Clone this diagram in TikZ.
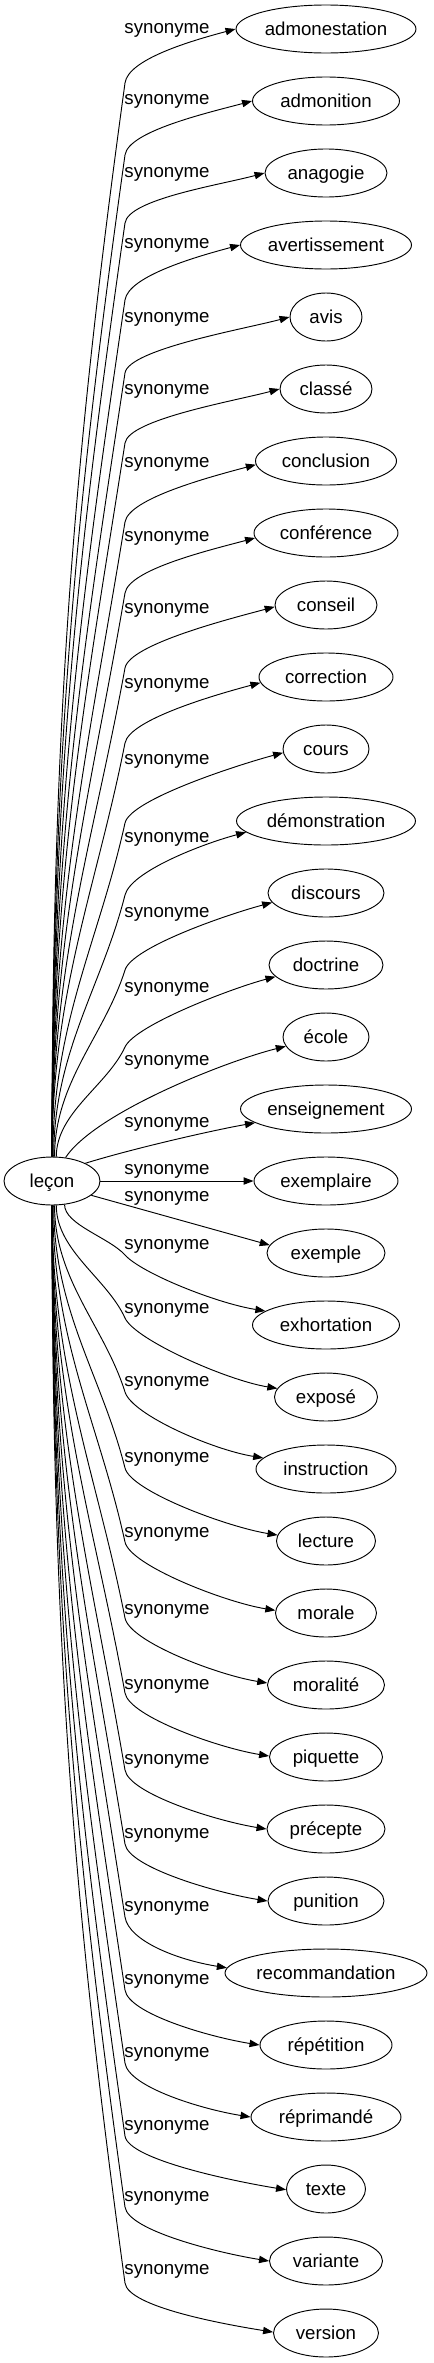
\documentclass[tikz,border=0pt]{standalone}
\usepackage{fontspec}
\setmainfont{Liberation Sans}
\usepackage{tikz}
\usetikzlibrary{calc, arrows.meta, shapes.geometric}
\tikzset{
    mot/.style={draw, ellipse, minimum height=36pt, inner sep=0pt,
        text height=9pt, text depth=0pt, line width=0.7pt},
    etiquette/.style={anchor=base, inner sep=0pt},
    lien/.style={-{Triangle[length=7.5pt,width=5.5pt]}, line width=0.7pt},
}
\NewDocumentCommand{\synhaut}{%
    O{90}   % angle de départ sur leçon
    O{180}  % angle d'arrivée sur le mot
    mmm     % nom, texte, largeur (px)
    mmm     % y du mot, y de l'étiquette, y du coude
    }{%
    \pgfmathsetmacro\largeur{#5*0.75}
    \pgfmathsetmacro\ecart{1157-#8}
    \pgfmathsetmacro\ctrlx{125-0.35*(40+0.1*\ecart)}
    \pgfmathsetmacro\ctrly{#8+0.35*\ecart}
    \node[mot, minimum width=\largeur pt] (#3) at (326,#6) {#4};
    \node[etiquette] (e#3) at (167,#7+4) {synonyme};
    \coordinate (c#3) at (\ctrlx,\ctrly);
    \coordinate (b#3) at (125,#8);
    \draw[lien] (lecon.#1) .. controls +(0,-0.4*\ecart) and (c#3) .. (b#3)
        .. controls ($(b#3)!-18pt!(c#3)$) and +(-45,12) .. (#3.#2);
}
\NewDocumentCommand{\synbas}{%
    O{-90}  % angle de départ sur leçon
    O{180}  % angle d'arrivée sur le mot
    mmm     % nom, texte, largeur (px)
    mmm     % y du mot, y de l'étiquette, y du coude
    }{%
    \pgfmathsetmacro\largeur{#5*0.75}
    \pgfmathsetmacro\ecart{#8-1205}
    \pgfmathsetmacro\ctrlx{125-0.35*(40+0.1*\ecart)}
    \pgfmathsetmacro\ctrly{#8-0.35*\ecart}
    \node[mot, minimum width=\largeur pt] (#3) at (326,#6) {#4};
    \node[etiquette] (e#3) at (167,#7+4) {synonyme};
    \coordinate (c#3) at (\ctrlx,\ctrly);
    \coordinate (b#3) at (125,#8);
    \draw[lien] (lecon.#1) .. controls +(0,0.4*\ecart) and (c#3) .. (b#3)
        .. controls ($(b#3)!-18pt!(c#3)$) and +(-50,-8) .. (#3.#2);
}
\begin{document}
\begin{tikzpicture}[x=0.75pt, y=-0.75pt,
    every node/.style={font=\fontsize{14}{16}\selectfont}]
    \useasboundingbox (0,0) rectangle (433,2363);
    \node[mot, minimum width=72pt] (lecon) at (52,1181) {leçon};
    % vers le haut
    \synhaut{admonestation}{admonestation}{180}{29}{29}{83}
    \synhaut{admonition}{admonition}{147}{101}{100}{155}
    \synhaut{anagogie}{anagogie}{122}{173}{173}{223}
    \synhaut{avertissement}{avertissement}{171}{245}{244}{300}
    \synhaut{avis}{avis}{72}{317}{318}{373}
    \synhaut{classe}{classé}{92}{389}{390}{443}
    \synhaut[90][183]{conclusion}{conclusion}{141}{461}{463}{522}
    \synhaut[90][184]{conference}{conférence}{144}{533}{537}{593}
    \synhaut[90][182]{conseil}{conseil}{102}{605}{609}{668}
    \synhaut[90][185]{correction}{correction}{134}{677}{684}{743}
    \synhaut[88][185]{cours}{cours}{86}{749}{760}{823}
    \synhaut[86][188]{demonstration}{démonstration}{179}{821}{838}{895}
    \synhaut[84][190]{discours}{discours}{116}{893}{913}{970}
    \synhaut[80][193]{doctrine}{doctrine}{114}{965}{988}{1047}
    % autour de leçon
    \node[mot, minimum width=64.5pt] (ecole) at (326,1037) {école};
    \node[etiquette] (eecole) at (167,1065) {synonyme};
    \draw[lien] (lecon.60) .. controls +(30,-45) and +(-60,15) .. (ecole.193);
    \node[mot, minimum width=128.25pt] (enseignement) at (326,1109) {enseignement};
    \node[etiquette] (eenseignement) at (167,1127) {synonyme};
    \draw[lien] (lecon.28) .. controls +(45,-14) and +(-45,8) .. (enseignement.191);
    \node[mot, minimum width=108pt] (exemplaire) at (326,1181) {exemplaire};
    \node[etiquette] (eexemplaire) at (167,1174) {synonyme};
    \draw[lien] (lecon) -- (exemplaire);
    \node[mot, minimum width=88.5pt] (exemple) at (326,1253) {exemple};
    \node[etiquette] (eexemple) at (167,1201) {synonyme};
    \draw[lien] (lecon.-20) -- (exemple.172);
    % vers le bas
    \synbas[-62][167]{exhortation}{exhortation}{147}{1325}{1245}{1255}
    \synbas[-80][170]{expose}{exposé}{103}{1397}{1309}{1318}
    \synbas[-84][170]{instruction}{instruction}{140}{1469}{1382}{1392}
    \synbas[-86][173]{lecture}{lecture}{99}{1541}{1458}{1468}
    \synbas[-88][177]{morale}{morale}{101}{1613}{1533}{1542}
    \synbas[-90][178]{moralite}{moralité}{117}{1685}{1610}{1618}
    \synbas[-90][179]{piquette}{piquette}{113}{1757}{1685}{1693}
    \synbas{precepte}{précepte}{118}{1829}{1760}{1770}
    \synbas{punition}{punition}{116}{1901}{1834}{1844}
    \synbas[-90][177]{recommandation}{recommandation}{202}{1973}{1907}{1917}
    \synbas{repetition}{répétition}{132}{2045}{1980}{1990}
    \synbas{reprimande}{réprimandé}{150}{2117}{2053}{2063}
    \synbas[-90][181]{texte}{texte}{79}{2189}{2126}{2136}
    \synbas{variante}{variante}{113}{2261}{2197}{2207}
    \synbas[-90][179]{version}{version}{105}{2333}{2270}{2283}
\end{tikzpicture}
\end{document}
